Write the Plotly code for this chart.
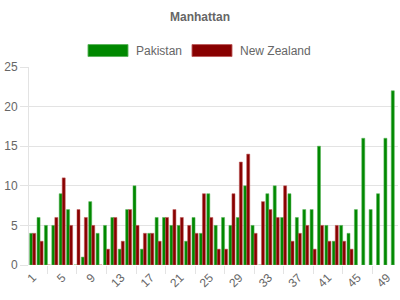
import plotly.graph_objects as go

overs = list(range(1, 51))
pakistan = [4, 6, 5, 5, 9, 7, 0, 1, 8, 4, 5, 6, 2, 7, 10, 2, 4, 6, 6, 5,
            5, 3, 6, 4, 9, 5, 6, 5, 6, 10, 5, 0, 9, 10, 6, 9, 6, 7, 7, 15,
            5, 3, 5, 4, 7, 16, 7, 9, 16, 22]
new_zealand = [4, 3, 0, 6, 11, 5, 7, 6, 5, 0, 2, 6, 3, 7, 5, 4, 4, 3, 6, 7,
               6, 5, 4, 9, 6, 2, 2, 9, 13, 14, 4, 8, 7, 6, 10, 3, 4, 5, 2, 5,
               3, 5, 3, 2, None, None, None, None, None, None]
x_tick_vals = list(range(1, 51, 4))
x_tick_text = [str(v) for v in x_tick_vals]
y_tick_vals = [0, 5, 10, 15, 20, 25]

GREEN = "#008800"
GREEN_EDGE = "rgba(90,180,90,0.9)"
RED = "#880000"
RED_EDGE = "rgba(190,90,90,0.9)"
GRID = "#e3e3e3"
TXT = "#666666"
FONT = "Liberation Sans, Arial, sans-serif"

fig = go.Figure()
fig.add_trace(go.Bar(x=overs, y=pakistan, name="Pakistan",
                     marker=dict(color=GREEN, line=dict(color=GREEN_EDGE, width=0.6))))
fig.add_trace(go.Bar(x=overs, y=new_zealand, name="New Zealand",
                     marker=dict(color=RED, line=dict(color=RED_EDGE, width=0.6))))

# custom legend (wide swatches)
legend_items = [("Pakistan", GREEN, GREEN_EDGE, 88), ("New Zealand", RED, RED_EDGE, 192)]
for label, fill, edge, px in legend_items:
    fig.add_shape(type="rect", xref="paper", yref="paper",
                  x0=(px - 29) / 369, x1=(px + 40 - 29) / 369,
                  y0=(300 - 35 - 56) / 198.5 - 0 + 0, y1=(300 - 35 - 44) / 198.5,
                  fillcolor=fill, line=dict(color=edge, width=1))
    fig.add_annotation(xref="paper", yref="paper", x=(px + 46 - 29) / 369,
                       y=(300 - 35 - 50) / 198.5, text=label, showarrow=False,
                       xanchor="left", yanchor="middle",
                       font=dict(family=FONT, size=12, color=TXT))

fig.update_layout(
    width=400, height=300,
    margin=dict(l=29, r=2, t=66.5, b=35),
    paper_bgcolor="white", plot_bgcolor="white",
    showlegend=False,
    barmode="group", bargap=0.18, bargroupgap=0,
    title=dict(text="<b>Manhattan</b>", x=0.5, xanchor="center", y=1 - 17 / 300,
               yanchor="middle", font=dict(family=FONT, size=12, color=TXT)),
    font=dict(family=FONT, size=12, color=TXT),
)
fig.update_xaxes(range=[0.5, 50.5], tickmode="array", tickvals=x_tick_vals,
                 ticktext=x_tick_text, tickangle=-45, ticks="outside", ticklen=0,
                 showgrid=False, zeroline=False, showline=False,
                 minor=dict(tick0=3, dtick=4, ticks="outside", ticklen=8,
                            tickcolor=GRID, showgrid=False),
                 tickfont=dict(family=FONT, size=12, color=TXT))
fig.update_yaxes(range=[0, 25], tickmode="array", tickvals=y_tick_vals,
                 showgrid=True, gridcolor=GRID, gridwidth=1, zeroline=False,
                 showline=True, linecolor=GRID, linewidth=1,
                 ticks="outside", ticklen=8, tickcolor=GRID,
                 tickfont=dict(family=FONT, size=12, color=TXT))

fig.write_html("out.html")
